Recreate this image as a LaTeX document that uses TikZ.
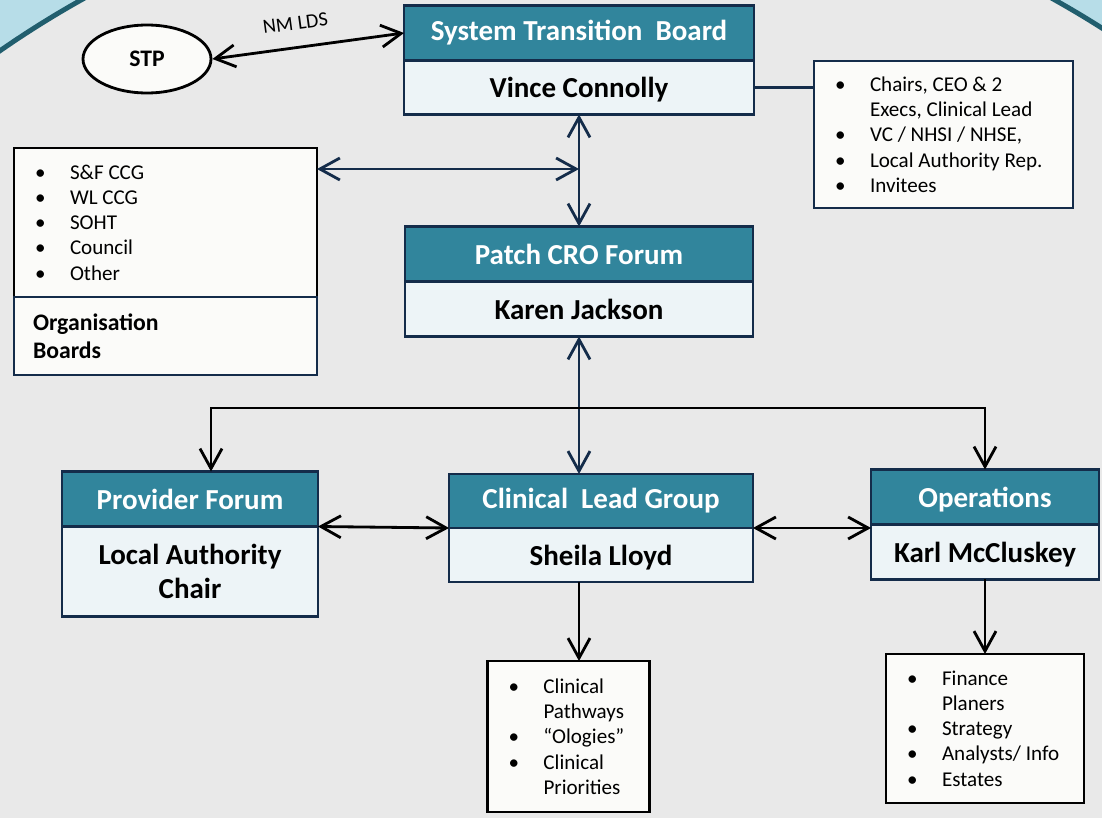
\documentclass[tikz,border=0pt]{standalone}
\usepackage{fontspec}
\setmainfont{Carlito}
\usetikzlibrary{arrows.meta,shapes.geometric}
\definecolor{bggrey}{HTML}{E9E9E9}
\definecolor{skyblue}{HTML}{B7DDE8}
\definecolor{rimteal}{HTML}{215E6E}
\definecolor{hdrteal}{HTML}{31859C}
\definecolor{navyline}{HTML}{142C4A}
\definecolor{bodyfill}{HTML}{EDF4F7}
\definecolor{boxfill}{HTML}{FBFBF9}
\newcommand{\bulletitem}{\makebox[0.7cm][l]{\textbullet}}
\newcommand{\bulletgap}{\hspace*{0.7cm}}

\begin{document}
\begin{tikzpicture}
  [x=0.02cm,y=-0.02cm,>={Straight Barb[length=4mm,width=4.4mm]},
   header/.style={rectangle,draw=navyline,line width=1.6pt,fill=hdrteal,text=white,outer sep=0pt,
     font=\fontsize{16.5}{19.8}\selectfont\bfseries,minimum height=1.1cm},
   body/.style={rectangle,draw=navyline,line width=1.6pt,fill=bodyfill,outer sep=0pt,anchor=north,align=center,
     font=\fontsize{16.5}{19.8}\selectfont\bfseries,minimum height=1.1cm},
   items/.style={rectangle,line width=1.6pt,fill=boxfill,outer sep=0pt,align=flush left,inner xsep=0.42cm,inner ysep=0pt,
     font=\fontsize{12}{14.4}\selectfont},
   conn/.style={line width=1.6pt}]
  \useasboundingbox (0,0) rectangle (1102,818);
  \fill[skyblue] (0,0) rectangle (1102,818);
  \begin{scope}
    \clip (0,0) rectangle (1102,818);
    \draw[fill=bggrey,draw=rimteal,line width=2.8pt] (568,870) circle [radius=19.94cm];
  \end{scope}

  \node[header,minimum width=7cm] (stbh) at (579,33) {System Transition~ Board};
  \node[body,minimum width=7cm,minimum height=1.08cm,text depth=0pt] (stb) at (stbh.south) {Vince Connolly};
  \node[header,minimum width=6.96cm] (croh) at (579,254) {Patch CRO Forum};
  \node[body,minimum width=6.96cm] (cro) at (croh.south) {Karen Jackson};
  \node[header,minimum width=5.12cm] (pfh) at (190,499) {Provider Forum};
  \node[body,minimum width=5.12cm,minimum height=1.8cm] (pf) at (pfh.south) {Local Authority\\Chair};
  \node[header,minimum width=6.08cm,minimum height=1.08cm] (clgh) at (601,501) {Clinical~ Lead Group};
  \node[body,minimum width=6.08cm,minimum height=1.08cm,text depth=0pt] (clg) at (clgh.south) {Sheila Lloyd};
  \node[header,minimum width=4.56cm,text depth=0pt] (oph) at (985,497) {Operations};
  \node[body,minimum width=4.56cm,text depth=0pt] (op) at (oph.south) {Karl McCluskey};

  \node[ellipse,draw=black,line width=1.6pt,fill=boxfill,minimum width=2.56cm,minimum height=1.36cm,
    font=\fontsize{13.5}{16}\selectfont\bfseries] (stp) at (147,59) {STP};

  \node[items,draw=navyline,text width=4.34cm,minimum height=2.94cm] (mem) at (943.5,134.5)
    {\bulletitem Chairs, CEO \& 2\\\bulletgap Execs, Clinical Lead\\\bulletitem VC / NHSI / NHSE,\\
     \bulletitem Local Authority Rep.\\\bulletitem Invitees};
  \node[items,draw=black,text width=5.22cm,minimum height=2.98cm] (orgl) at (165.5,222.5)
    {\bulletitem S\&F CCG\\\bulletitem WL CCG\\\bulletitem SOHT\\\bulletitem Council\\\bulletitem Other};
  \node[items,draw=navyline,anchor=north,inner xsep=0.38cm,text width=5.3cm,minimum height=1.56cm,
    font=\fontsize{13.5}{15.9}\selectfont\bfseries] (org) at (orgl.south) {Organisation\\Boards};
  \node[items,draw=black,text width=2.4cm,minimum height=3.02cm] (clin) at (568.5,736.5)
    {\bulletitem Clinical\\\bulletgap Pathways\\\bulletitem “Ologies”\\\bulletitem Clinical\\\bulletgap Priorities};
  \node[items,draw=black,text width=3.12cm,minimum height=2.98cm] (opl) at (985,728.5)
    {\bulletitem Finance\\\bulletgap Planers\\\bulletitem Strategy\\\bulletitem Analysts/ Info\\\bulletitem Estates};

  \coordinate (hub) at (579,169);
  \coordinate (split) at (211,408);
  \draw[conn,<->] (stp.east) -- node[pos=0.45,sloped,above=6pt,font=\fontsize{11.5}{13}\selectfont] (nmlds) {NM LDS} (stbh.west);
  \draw[conn,navyline,line width=2pt] (stb.east) -- (stb.east -| mem.west);
  \draw[conn,navyline,<->] (stb.south) -- (croh.north);
  \draw[conn,navyline,<->] (hub -| orgl.east) -- (hub);
  \draw[conn,navyline,<->] (cro.south) -- (cro.south |- clgh.north);
  \draw[conn,<->] (split |- pfh.north) -- (split) -| (oph.north);
  \draw[conn,<->] (pfh.south east) -- (clgh.south west);
  \draw[conn,<->] (clgh.south east) -- (clgh.south east -| oph.west);
  \draw[conn,->] (cro.south |- clg.south) -- (cro.south |- clin.north);
  \draw[conn,->] (op.south) -- (opl.north);
\end{tikzpicture}
\end{document}
